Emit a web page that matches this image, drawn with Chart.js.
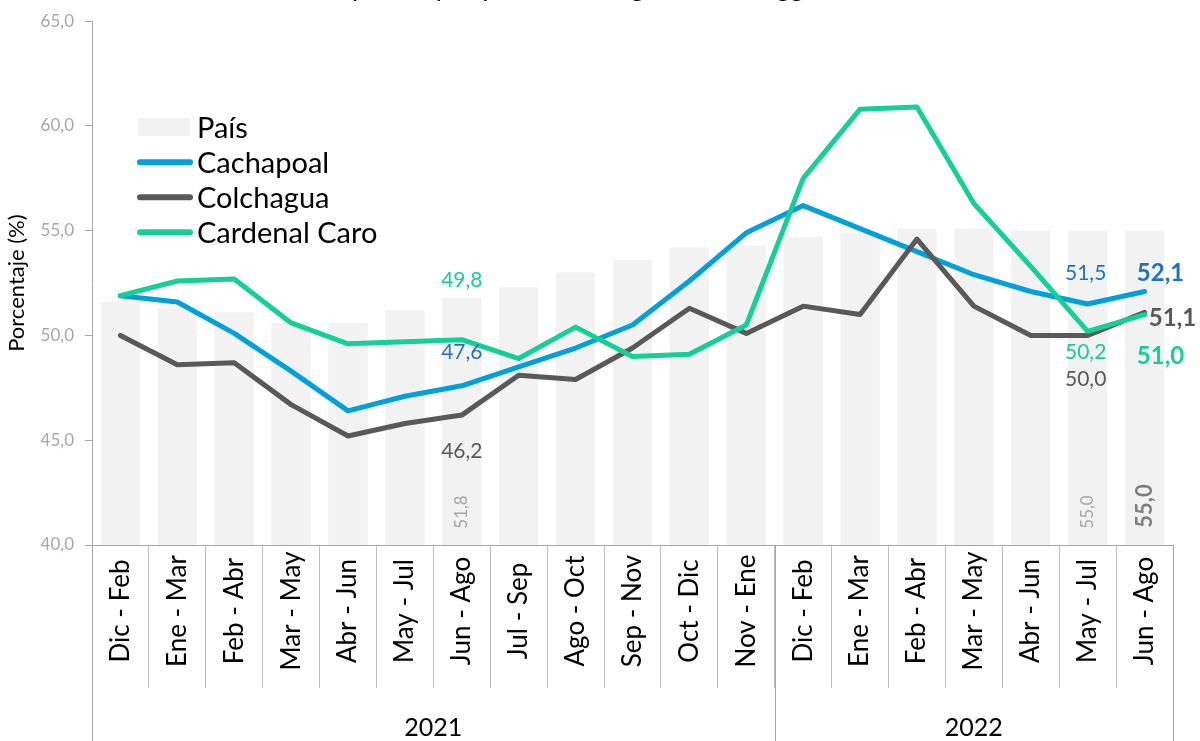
<!DOCTYPE html>
<html>
<head>
<meta charset="utf-8">
<script src="https://cdn.jsdelivr.net/npm/chart.js@4.4.1/dist/chart.umd.min.js"></script>
<style>
  html, body { margin: 0; padding: 0; background: #fff; }
  #wrap { width: 1200px; height: 741px; }
</style>
</head>
<body>
<div id="wrap"><canvas id="grafico"></canvas></div>
<script>
// datos (trimestres móviles)
const periodos = ['Dic - Feb', 'Ene - Mar', 'Feb - Abr', 'Mar - May', 'Abr - Jun', 'May - Jul', 'Jun - Ago',
  'Jul - Sep', 'Ago - Oct', 'Sep - Nov', 'Oct - Dic', 'Nov - Ene',
  'Dic - Feb', 'Ene - Mar', 'Feb - Abr', 'Mar - May', 'Abr - Jun', 'May - Jul', 'Jun - Ago'];
const anios = ['2021', '2022'];
const periodosPorAnio = [12, 7];
const pais = [51.6, 51.3, 51.1, 50.6, 50.6, 51.2, 51.8, 52.3, 53.0, 53.6, 54.2, 54.3, 54.7, 54.9, 55.1, 55.1, 55.0, 55.0, 55.0];
const cachapoal = [51.9, 51.6, 50.1, 48.3, 46.4, 47.1, 47.6, 48.5, 49.4, 50.5, 52.6, 54.9, 56.2, 55.1, 54.0, 52.9, 52.1, 51.5, 52.1];
const colchagua = [50.0, 48.6, 48.7, 46.7, 45.2, 45.8, 46.2, 48.1, 47.9, 49.4, 51.3, 50.1, 51.4, 51.0, 54.6, 51.4, 50.0, 50.0, 51.1];
const cardenalCaro = [51.9, 52.6, 52.7, 50.6, 49.6, 49.7, 49.8, 48.9, 50.4, 49.0, 49.1, 50.5, 57.5, 60.8, 60.9, 56.3, 53.3, 50.2, 51.0];
const ticksY = [40, 45, 50, 55, 60, 65];
const idxEtiquetas = [6, 17];
const idxFinal = 18;

const FUENTE = 'Lato, "Open Sans", sans-serif';
const fmt = v => v.toFixed(1).replace('.', ',');

// dataset, indice, desplazamiento de la etiqueta
const etiquetasLinea = [
    { ds: 3, i: 6, dx: 0, dy: -59, col: '#14CF98', bold: false },
    { ds: 1, i: 6, dx: 0, dy: -34, col: '#1F72C4', bold: false },
    { ds: 2, i: 6, dx: 0, dy: 36, col: '#595959', bold: false },
    { ds: 1, i: 17, dx: -2, dy: -31, col: '#1F72C4', bold: false },
    { ds: 3, i: 17, dx: -2, dy: 21, col: '#14CF98', bold: false },
    { ds: 2, i: 17, dx: -2, dy: 44, col: '#595959', bold: false },
    { ds: 1, i: 18, dx: 16, dy: -18, col: '#1F72C4', bold: true },
    { ds: 2, i: 18, dx: 28, dy: 6, col: '#595959', bold: true },
    { ds: 3, i: 18, dx: 16, dy: 42, col: '#14CF98', bold: true }
];

const extras = {
    id: 'extras',
    afterDraw(chart) {
        const ctx = chart.ctx;
        const xs = chart.scales.x;
        const area = chart.chartArea;
        const medio = (xs.getPixelForValue(1) - xs.getPixelForValue(0)) / 2;
        ctx.save();

        // titulo (recortado arriba)
        const titulo = "Tasa de ocupación por provincia, Región de O'Higgins, 2021-2022";
        ctx.font = '24px ' + FUENTE;
        const escala = 485 / ctx.measureText("pación por provincia, Región de O'Higgins").width;
        const fs = 24 * escala;
        ctx.font = fs + 'px ' + FUENTE;
        ctx.fillStyle = '#000';
        ctx.textAlign = 'left';
        ctx.textBaseline = 'alphabetic';
        ctx.fillText(titulo, 352 - ctx.measureText('Tasa de ocu').width, -4);

        // etiquetas de periodos
        ctx.font = '26px ' + FUENTE;
        ctx.textAlign = 'center';
        ctx.textBaseline = 'middle';
        periodos.forEach((p, i) => {
            ctx.save();
            ctx.translate(xs.getPixelForValue(i), area.bottom + 66);
            ctx.rotate(-Math.PI / 2);
            ctx.fillText(p, 0, 0);
            ctx.restore();
        });

        // separadores de años
        ctx.strokeStyle = '#A6A6A6';
        ctx.lineWidth = 1;
        let ini = 0;
        const bordes = [ini];
        periodosPorAnio.forEach(n => { ini += n; bordes.push(ini); });
        bordes.forEach(b => {
            const px = Math.round(xs.getPixelForValue(b) - medio) + 0.5;
            ctx.beginPath();
            ctx.moveTo(px, area.bottom);
            ctx.lineTo(px, chart.height);
            ctx.stroke();
        });
        ctx.font = '25px ' + FUENTE;
        ctx.fillStyle = '#000';
        anios.forEach((a, k) => {
            const x0 = xs.getPixelForValue(bordes[k]) - medio;
            const x1 = xs.getPixelForValue(bordes[k + 1]) - medio;
            ctx.fillText(a, (x0 + x1) / 2, area.bottom + 183);
        });

        // etiquetas de barras (rotadas)
        const metaBar = chart.getDatasetMeta(0);
        idxEtiquetas.concat([idxFinal]).forEach(i => {
            const bar = metaBar.data[i];
            const fin = i === idxFinal;
            ctx.save();
            ctx.translate(bar.x, area.bottom - (fin ? 39 : 33));
            ctx.rotate(-Math.PI / 2);
            ctx.font = (fin ? 'bold 22px ' : '17px ') + FUENTE;
            ctx.fillStyle = fin ? '#7F7F7F' : '#A6A6A6';
            ctx.fillText(fmt(pais[i]), 0, 0);
            ctx.restore();
        });

        // etiquetas de lineas
        etiquetasLinea.forEach(e => {
            const pt = chart.getDatasetMeta(e.ds).data[e.i];
            ctx.font = (e.bold ? 'bold 24px ' : '21px ') + FUENTE;
            ctx.fillStyle = e.col;
            ctx.fillText(fmt(chart.data.datasets[e.ds].data[e.i]), pt.x + e.dx, pt.y + e.dy);
        });

        // leyenda
        const lx = area.left + 46;
        let ly = area.top + 106;
        ctx.textAlign = 'left';
        ctx.font = '29px ' + FUENTE;
        chart.data.datasets.forEach(ds => {
            if (ds.type === 'bar') {
                ctx.fillStyle = ds.backgroundColor;
                ctx.fillRect(lx, ly - 9, 52, 18);
            } else {
                ctx.strokeStyle = ds.borderColor;
                ctx.lineWidth = 6;
                ctx.lineCap = 'round';
                ctx.beginPath();
                ctx.moveTo(lx + 2, ly);
                ctx.lineTo(lx + 52, ly);
                ctx.stroke();
            }
            ctx.fillStyle = '#000';
            ctx.fillText(ds.label, lx + 59, ly + 1);
            ly += 35;
        });
        ctx.restore();
    }
};

const ctx = document.getElementById('grafico').getContext('2d');
new Chart(ctx, {
    data: {
        labels: periodos,
        datasets: [
            { type: 'bar', label: 'País', data: pais, backgroundColor: '#F2F2F2',
              barPercentage: 0.69, categoryPercentage: 1, order: 4 },
            { type: 'line', label: 'Cachapoal', data: cachapoal, borderColor: '#00A0DC',
              borderWidth: 5, pointRadius: 0, tension: 0, borderJoinStyle: 'round', borderCapStyle: 'round', order: 3 },
            { type: 'line', label: 'Colchagua', data: colchagua, borderColor: '#595959',
              borderWidth: 5, pointRadius: 0, tension: 0, borderJoinStyle: 'round', borderCapStyle: 'round', order: 2 },
            { type: 'line', label: 'Cardenal Caro', data: cardenalCaro, borderColor: '#14CF98',
              borderWidth: 5, pointRadius: 0, tension: 0, borderJoinStyle: 'round', borderCapStyle: 'round', order: 1 }
        ]
    },
    options: {
        responsive: true,
        maintainAspectRatio: false,
        animation: false,
        layout: { padding: { top: 20, right: 27, bottom: 0, left: 0 } },
        plugins: {
            legend: { display: false },
            title: { display: false },
            tooltip: { enabled: false }
        },
        scales: {
            x: {
                grid: { offset: true, drawOnChartArea: false, drawTicks: true, tickLength: 143, color: '#BFBFBF' },
                border: { color: '#A6A6A6' },
                ticks: { display: false },
                afterFit: s => { s.height = 196; }
            },
            y: {
                min: ticksY[0],
                max: ticksY[ticksY.length - 1],
                afterBuildTicks: s => { s.ticks = ticksY.map(v => ({ value: v })); },
                grid: { drawOnChartArea: false, drawTicks: true, tickLength: 7, color: '#A6A6A6' },
                border: { color: '#A6A6A6' },
                ticks: {
                    padding: 11,
                    color: '#A6A6A6',
                    font: { family: FUENTE, size: 17 },
                    callback: v => fmt(v)
                },
                title: {
                    display: true,
                    text: 'Porcentaje (%)',
                    color: '#000',
                    font: { family: FUENTE, size: 22 },
                    padding: { top: 4, bottom: 0 }
                },
                afterFit: s => { s.width = 92; }
            }
        }
    },
    plugins: [extras]
});
</script>
</body>
</html>
